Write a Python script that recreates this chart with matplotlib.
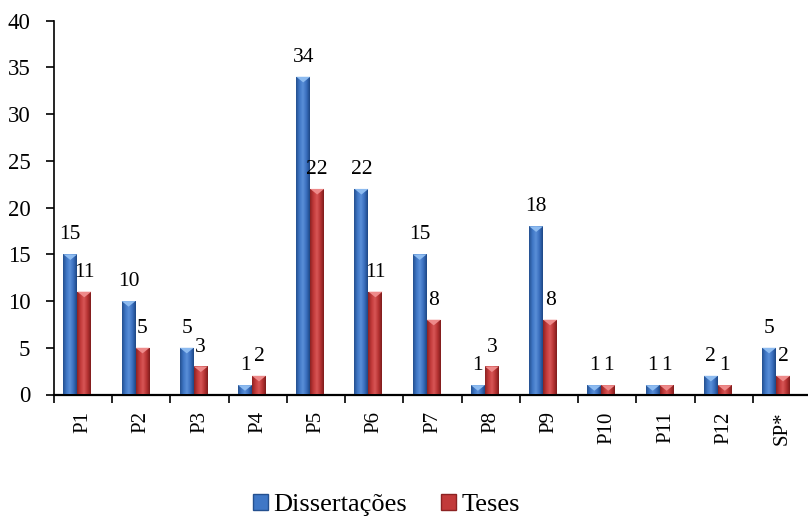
import numpy as np
import matplotlib.pyplot as plt
from matplotlib.colors import LinearSegmentedColormap
from matplotlib.patches import Patch, Polygon

plt.rcParams['font.family'] = ['Liberation Serif', 'DejaVu Serif']

categorias = ['P1', 'P2', 'P3', 'P4', 'P5', 'P6', 'P7', 'P8', 'P9',
              'P10', 'P11', 'P12', 'SP*']
dissertacoes = [15, 10, 5, 1, 34, 22, 15, 1, 18, 1, 1, 2, 5]
teses = [11, 5, 3, 2, 22, 11, 8, 3, 8, 1, 1, 1, 2]

largura = 0.24

azul = LinearSegmentedColormap.from_list(
    'azul', ['#24508f', '#3f77c6', '#5a8fd8', '#3a6fbe', '#1d4785'])
vermelho = LinearSegmentedColormap.from_list(
    'vermelho', ['#8c2222', '#c23a3a', '#d85656', '#b83434', '#7f1c1c'])

fig = plt.figure(figsize=(8.08, 5.23), dpi=100)
ax = fig.add_axes([54 / 808, 128.5 / 523, 757 / 808, 373.8 / 523])

x = np.arange(len(categorias))
grad = np.linspace(0, 1, 64).reshape(1, -1)


def barras(pos, valores, cmap, topo, cor):
    bars = ax.bar(pos, valores, largura, color=cor, zorder=2)
    for b, v in zip(bars, valores):
        x0 = b.get_x()
        x1 = x0 + b.get_width()
        im = ax.imshow(grad, extent=[x0, x1, 0, v], aspect='auto',
                       cmap=cmap, zorder=3)
        im.set_clip_path(b)
        # bevel on top of each bar
        h = min(0.6, v * 0.6)
        tri = Polygon([[x0, v], [x1, v], [(x0 + x1) / 2, v - h]],
                      closed=True, facecolor=topo, edgecolor='none',
                      zorder=4)
        ax.add_patch(tri)
        ax.annotate(str(v), ((x0 + x1) / 2, v), xytext=(0, 14),
                    textcoords='offset points', ha='center', va='center',
                    fontsize=15.5, zorder=5)
    return bars


barras(x + 0.28, dissertacoes, azul, '#8dbbf0', '#3a6fbe')
barras(x + 0.52, teses, vermelho, '#ee8a8a', '#b83434')

ax.set_xlim(0, len(categorias))
ax.set_ylim(0, 40)
ax.set_yticks(np.arange(0, 41, 5))
ax.set_xticks(x + 0.5)
ax.set_xticklabels(categorias, rotation=90, fontsize=15)
ax.set_xticks(np.arange(0, len(categorias) + 1), minor=True)
ax.tick_params(axis='x', which='major', length=0, pad=12)
ax.tick_params(axis='x', which='minor', length=6, width=1.2, direction='out')
ax.tick_params(axis='y', labelsize=16.5, length=6, width=1.2, pad=11)

for s in ['top', 'right']:
    ax.spines[s].set_visible(False)
ax.spines['left'].set_linewidth(1.2)
ax.spines['bottom'].set_linewidth(1.6)

handles = [Patch(facecolor='#3f77c6', edgecolor='#24508f'),
           Patch(facecolor='#c23a3a', edgecolor='#8c2222')]
fig.legend(handles, ['Dissertações', 'Teses'], loc='center',
           bbox_to_anchor=(0.478, 0.034), ncol=2, frameon=False,
           fontsize=19, handlelength=0.58, handleheight=0.58,
           handletextpad=0.2, columnspacing=1.27)

plt.savefig('out.png', dpi=100)
